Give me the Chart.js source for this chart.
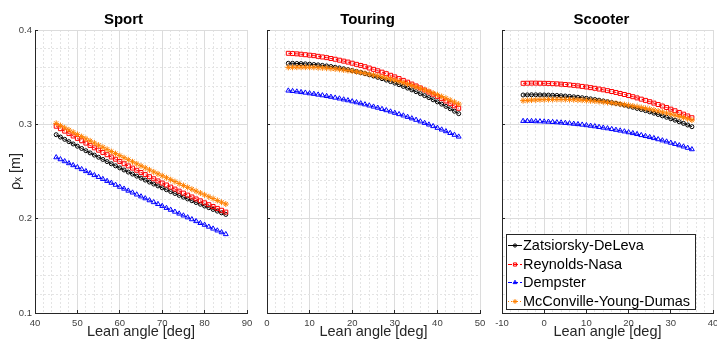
<!DOCTYPE html>
<html>
<head>
<meta charset="utf-8">
<script src="https://cdn.jsdelivr.net/npm/chart.js@4/dist/chart.umd.min.js"></script>
<style>
  html, body { margin: 0; padding: 0; background: #fff; }
  body { width: 717px; height: 347px; position: relative; overflow: hidden; }
  canvas { position: absolute; top: 0; }
</style>
</head>
<body>
<canvas id="sport" width="252" height="347" style="left:0px"></canvas>
<canvas id="touring" width="230" height="347" style="left:255px"></canvas>
<canvas id="scooter" width="228" height="347" style="left:490px"></canvas>
<script>
// lean angles [deg]
const sportAngle = [45,46,47,48,49,50,51,52,53,54,55,56,57,58,59,60,61,62,63,64,65,66,67,68,69,70,71,72,73,74,75,76,77,78,79,80,81,82,83,84,85];
const touringAngle = [5,6,7,8,9,10,11,12,13,14,15,16,17,18,19,20,21,22,23,24,25,26,27,28,29,30,31,32,33,34,35,36,37,38,39,40,41,42,43,44,45];
const scooterAngle = [-5,-4,-3,-2,-1,0,1,2,3,4,5,6,7,8,9,10,11,12,13,14,15,16,17,18,19,20,21,22,23,24,25,26,27,28,29,30,31,32,33,34,35];

// rho_x [m], Sport
const sportZatsiorsky = [.2890,.2865,.2841,.2816,.2792,.2768,.2744,.2720,.2697,.2674,.2651,.2628,.2605,.2582,.2560,.2538,.2516,.2494,.2473,.2451,.2430,.2409,.2388,.2367,.2347,.2327,.2307,.2287,.2267,.2247,.2228,.2209,.2190,.2171,.2153,.2134,.2116,.2098,.2080,.2062,.2045];
const sportReynolds = [.2980,.2954,.2928,.2902,.2876,.2851,.2826,.2801,.2776,.2751,.2726,.2702,.2678,.2654,.2630,.2606,.2582,.2559,.2536,.2513,.2490,.2467,.2445,.2423,.2400,.2378,.2357,.2335,.2314,.2292,.2271,.2250,.2230,.2209,.2189,.2168,.2148,.2129,.2109,.2089,.2070];
const sportDempster = [.2650,.2629,.2608,.2587,.2566,.2545,.2524,.2503,.2482,.2461,.2441,.2420,.2399,.2379,.2358,.2337,.2317,.2296,.2276,.2255,.2235,.2215,.2194,.2174,.2154,.2134,.2113,.2093,.2073,.2053,.2033,.2013,.1993,.1973,.1953,.1934,.1914,.1894,.1874,.1855,.1835];
const sportMcConville = [.3010,.2986,.2963,.2940,.2916,.2893,.2870,.2847,.2825,.2802,.2779,.2757,.2735,.2712,.2690,.2668,.2646,.2625,.2603,.2581,.2560,.2539,.2517,.2496,.2475,.2455,.2434,.2413,.2393,.2372,.2352,.2332,.2312,.2292,.2272,.2252,.2232,.2213,.2193,.2174,.2155];

// rho_x [m], Touring
const touringZatsiorsky = [.3647,.3647,.3645,.3644,.3641,.3638,.3634,.3630,.3625,.3619,.3613,.3605,.3598,.3589,.3580,.3571,.3560,.3549,.3537,.3525,.3512,.3498,.3484,.3469,.3453,.3437,.3420,.3402,.3384,.3365,.3346,.3325,.3304,.3283,.3260,.3238,.3214,.3190,.3165,.3139,.3113];
const touringReynolds = [.3753,.3750,.3747,.3743,.3738,.3733,.3728,.3721,.3714,.3707,.3698,.3690,.3680,.3670,.3660,.3648,.3636,.3624,.3611,.3597,.3583,.3568,.3553,.3537,.3520,.3503,.3485,.3466,.3447,.3427,.3407,.3386,.3364,.3342,.3319,.3296,.3272,.3247,.3222,.3196,.3170];
const touringDempster = [.3357,.3352,.3347,.3341,.3335,.3328,.3322,.3314,.3307,.3299,.3291,.3282,.3273,.3263,.3254,.3243,.3233,.3222,.3211,.3199,.3187,.3175,.3162,.3149,.3135,.3121,.3107,.3093,.3078,.3062,.3047,.3030,.3014,.2997,.2980,.2962,.2944,.2926,.2907,.2888,.2869];
const touringMcConville = [.3604,.3605,.3606,.3606,.3606,.3605,.3604,.3601,.3599,.3596,.3592,.3588,.3583,.3577,.3571,.3565,.3557,.3550,.3541,.3532,.3523,.3513,.3502,.3491,.3480,.3467,.3454,.3441,.3427,.3412,.3397,.3382,.3365,.3349,.3331,.3313,.3295,.3276,.3256,.3236,.3215];

// rho_x [m], Scooter
const scooterZatsiorsky = [.3311,.3312,.3313,.3313,.3312,.3311,.3310,.3308,.3306,.3303,.3300,.3296,.3292,.3287,.3282,.3276,.3270,.3263,.3256,.3248,.3240,.3231,.3222,.3213,.3203,.3192,.3181,.3169,.3157,.3145,.3132,.3118,.3104,.3090,.3075,.3059,.3044,.3027,.3010,.2993,.2975];
const scooterReynolds = [.3435,.3436,.3437,.3437,.3436,.3435,.3434,.3431,.3429,.3426,.3422,.3418,.3413,.3408,.3402,.3396,.3389,.3382,.3374,.3366,.3357,.3348,.3338,.3327,.3316,.3305,.3293,.3280,.3267,.3254,.3240,.3225,.3210,.3194,.3178,.3161,.3144,.3126,.3108,.3089,.3070];
const scooterDempster = [.3035,.3035,.3034,.3032,.3031,.3029,.3027,.3024,.3021,.3018,.3014,.3010,.3005,.3001,.2996,.2990,.2984,.2978,.2971,.2964,.2957,.2949,.2941,.2933,.2924,.2915,.2906,.2896,.2885,.2875,.2864,.2853,.2841,.2829,.2817,.2804,.2791,.2777,.2764,.2750,.2735];
const scooterMcConville = [.3251,.3254,.3257,.3259,.3261,.3262,.3263,.3264,.3264,.3264,.3263,.3262,.3261,.3259,.3256,.3253,.3250,.3247,.3242,.3238,.3233,.3228,.3222,.3216,.3209,.3202,.3194,.3187,.3178,.3169,.3160,.3151,.3141,.3130,.3119,.3108,.3096,.3084,.3071,.3058,.3045];

const seriesLabels = ['Zatsiorsky-DeLeva', 'Reynolds-Nasa', 'Dempster', 'McConville-Young-Dumas'];

Chart.defaults.font.family = '"Liberation Sans", Arial, Helvetica, sans-serif';
Chart.defaults.color = '#333';

const FONT = '"Liberation Sans", Arial, Helvetica, sans-serif';
const styles = [
  { color: '#000000', dash: [], point: 'circle', r: 2 },
  { color: '#ff0000', dash: [4, 2], point: 'rect', r: 2.8 },
  { color: '#0000ff', dash: [4, 2], point: 'triangle', r: 2.8 },
  { color: '#ff8000', dash: [1, 2], point: 'star', r: 3 }
];

function makeDatasets(angle, series) {
  return series.map((vals, i) => ({
    label: seriesLabels[i],
    data: angle.map((a, j) => ({ x: a, y: vals[j] })),
    borderColor: styles[i].color,
    borderWidth: 1,
    borderDash: styles[i].dash,
    pointStyle: styles[i].point,
    pointRadius: styles[i].r,
    pointBorderWidth: 1,
    pointBorderColor: styles[i].color,
    pointBackgroundColor: 'rgba(0,0,0,0)',
    order: 4 - i,
    tension: 0
  }));
}

const isMajorX = v => Math.abs(v % 10) < 1e-6;
const isMajorY = v => Math.abs(v * 10 - Math.round(v * 10)) < 1e-6;

function gridOpts(isMajor) {
  return {
    color: c => (c.tick && isMajor(c.tick.value)) ? '#dcdcdc' : '#e4e4e4',
    lineWidth: 1,
    drawTicks: true,
    tickLength: -3,
    tickWidth: 1,
    tickColor: c => (c.tick && isMajor(c.tick.value)) ? '#262626' : 'rgba(0,0,0,0)'
  };
}

function borderOpts(isMajor) {
  return {
    display: true,
    color: '#262626',
    width: 1,
    dash: c => (c.tick && !isMajor(c.tick.value)) ? [2, 2] : []
  };
}

// legend drawn inside the plot area, bottom left
const insideLegend = {
  id: 'insideLegend',
  afterDraw(chart) {
    const { ctx, chartArea } = chart;
    const w = 189, h = 75;
    const x0 = Math.round(chartArea.left + 4), y0 = Math.round(chartArea.bottom - 4 - h);
    ctx.save();
    ctx.fillStyle = '#fff';
    ctx.fillRect(x0, y0, w, h);
    ctx.strokeStyle = '#262626';
    ctx.lineWidth = 1;
    ctx.strokeRect(x0 + 0.5, y0 + 0.5, w, h);
    chart.data.datasets.forEach((ds, i) => {
      const cy = Math.round(y0 + 11 + i * 18.7) + 0.5;
      ctx.strokeStyle = ds.borderColor;
      ctx.lineWidth = 1;
      ctx.setLineDash(ds.borderDash || []);
      ctx.beginPath();
      ctx.moveTo(x0 + 2, cy);
      ctx.lineTo(x0 + 16, cy);
      ctx.stroke();
      ctx.setLineDash([]);
      ctx.fillStyle = 'rgba(0,0,0,0)';
      Chart.helpers.drawPoint(ctx, { pointStyle: ds.pointStyle, radius: ds.pointRadius * 0.8, borderWidth: 1, rotation: 0 }, x0 + 9, cy);
      ctx.fillStyle = '#000';
      ctx.font = '14.5px ' + FONT;
      ctx.textBaseline = 'middle';
      ctx.textAlign = 'left';
      ctx.fillText(ds.label, x0 + 17, cy + 0.5);
    });
    ctx.restore();
  }
};

function makeChart(id, title, angle, series, xMin, xMax, yAxisWidth, showY, legend) {
  return new Chart(document.getElementById(id), {
    type: 'line',
    data: { datasets: makeDatasets(angle, series) },
    options: {
      responsive: false,
      animation: false,
      devicePixelRatio: 1,
      layout: { padding: { left: 0, right: 5, top: 0, bottom: 0 } },
      plugins: {
        legend: { display: false },
        tooltip: { enabled: false },
        title: {
          display: true,
          text: title,
          color: '#000',
          font: { size: 15, weight: 'bold', family: FONT },
          padding: { top: 11, bottom: 1 }
        }
      },
      scales: {
        x: {
          type: 'linear',
          min: xMin,
          max: xMax,
          grid: gridOpts(isMajorX),
          border: borderOpts(isMajorX),
          ticks: {
            stepSize: 2,
            maxTicksLimit: 100,
            autoSkip: false,
            maxRotation: 0,
            padding: 8,
            color: '#404040',
            font: { size: 9.5 },
            callback: v => isMajorX(v) ? String(v) : ''
          },
          title: {
            display: true,
            text: 'Lean angle [deg]',
            color: '#262626',
            font: { size: 14.5, family: FONT },
            padding: { top: 0, bottom: 6 }
          },
          afterFit: s => { s.height = 34; s.paddingLeft = 0; s.paddingRight = 0; }
        },
        y: {
          type: 'linear',
          min: 0.1,
          max: 0.4,
          grid: gridOpts(isMajorY),
          border: borderOpts(isMajorY),
          ticks: {
            stepSize: 0.02,
            maxTicksLimit: 100,
            autoSkip: false,
            padding: 6,
            color: '#404040',
            font: { size: 9.5 },
            callback: v => (showY && isMajorY(v)) ? v.toFixed(1) : ''
          },
          title: {
            display: showY,
            text: 'ρₓ [m]',
            color: '#262626',
            font: { size: 14.5, family: FONT },
            padding: { top: 7, bottom: 0 }
          },
          afterFit: s => { s.width = yAxisWidth; s.paddingTop = 0; s.paddingBottom = 0; }
        }
      }
    },
    plugins: legend ? [insideLegend] : []
  });
}

makeChart('sport', 'Sport', sportAngle,
  [sportZatsiorsky, sportReynolds, sportDempster, sportMcConville], 40, 90, 35, true, false);
makeChart('touring', 'Touring', touringAngle,
  [touringZatsiorsky, touringReynolds, touringDempster, touringMcConville], 0, 50, 12, false, false);
makeChart('scooter', 'Scooter', scooterAngle,
  [scooterZatsiorsky, scooterReynolds, scooterDempster, scooterMcConville], -10, 40, 12, false, true);
</script>
</body>
</html>
